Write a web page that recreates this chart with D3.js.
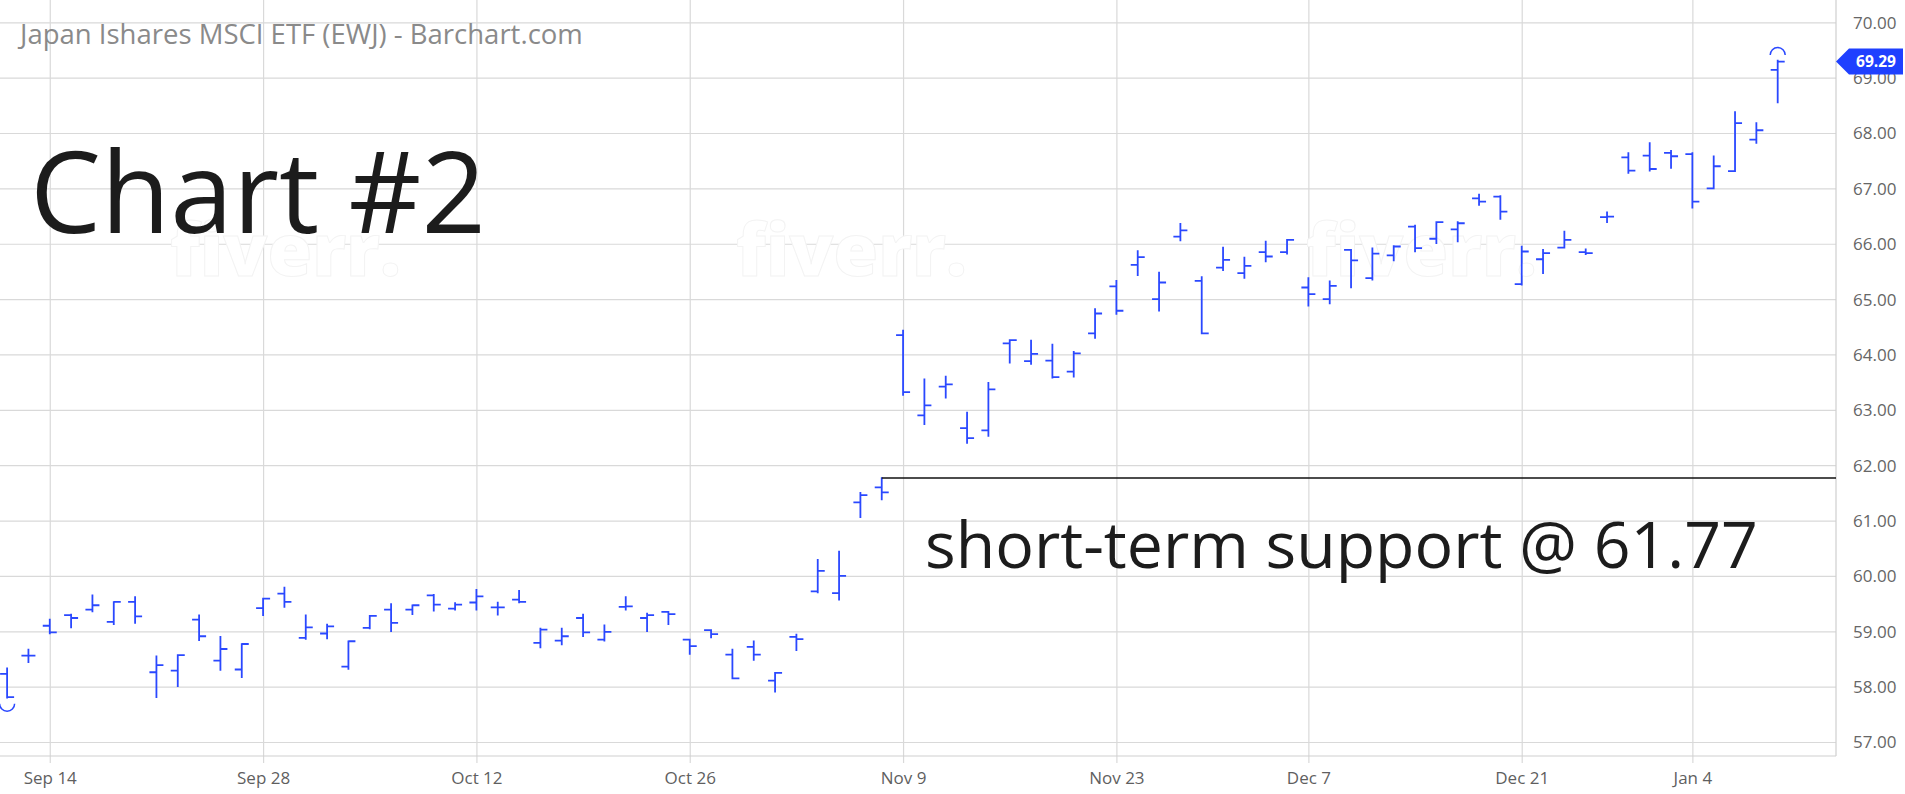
<!DOCTYPE html>
<html>
<head>
<meta charset="utf-8">
<script src="https://cdn.jsdelivr.net/npm/d3@7"></script>
<style>
  html, body { margin: 0; padding: 0; background: #ffffff; }
  svg { display: block; }
</style>
</head>
<body>
<svg id="chart" width="1905" height="794"></svg>
<script>
// ---------------- DATA ----------------
const dates = [
  "2020-09-10","2020-09-11","2020-09-14","2020-09-15","2020-09-16","2020-09-17","2020-09-18",
  "2020-09-21","2020-09-22","2020-09-23","2020-09-24","2020-09-25",
  "2020-09-28","2020-09-29","2020-09-30","2020-10-01","2020-10-02",
  "2020-10-05","2020-10-06","2020-10-07","2020-10-08","2020-10-09",
  "2020-10-12","2020-10-13","2020-10-14","2020-10-15","2020-10-16",
  "2020-10-19","2020-10-20","2020-10-21","2020-10-22","2020-10-23",
  "2020-10-26","2020-10-27","2020-10-28","2020-10-29","2020-10-30",
  "2020-11-02","2020-11-03","2020-11-04","2020-11-05","2020-11-06",
  "2020-11-09","2020-11-10","2020-11-11","2020-11-12","2020-11-13",
  "2020-11-16","2020-11-17","2020-11-18","2020-11-19","2020-11-20",
  "2020-11-23","2020-11-24","2020-11-25","2020-11-27",
  "2020-11-30","2020-12-01","2020-12-02","2020-12-03","2020-12-04",
  "2020-12-07","2020-12-08","2020-12-09","2020-12-10","2020-12-11",
  "2020-12-14","2020-12-15","2020-12-16","2020-12-17","2020-12-18",
  "2020-12-21","2020-12-22","2020-12-23","2020-12-24",
  "2020-12-28","2020-12-29","2020-12-30","2020-12-31",
  "2021-01-04","2021-01-05","2021-01-06","2021-01-07","2021-01-08"
];
const openVals = [
  58.23,58.56,59.10,59.29,59.39,59.17,59.53,
  58.26,58.29,59.21,58.47,58.31,
  59.42,59.68,58.88,58.96,58.36,
  59.06,59.39,59.39,59.65,59.41,
  59.52,59.43,59.57,58.79,58.83,
  59.24,58.85,59.44,59.24,59.35,
  58.85,59.02,58.58,58.72,58.11,
  58.90,59.72,59.69,61.33,61.60,
  64.35,62.90,63.42,62.67,62.63,
  64.20,63.88,63.89,63.69,64.38,
  65.23,65.62,65.00,66.13,
  65.33,65.57,65.47,65.85,65.85,
  65.21,65.00,65.89,65.38,65.79,
  66.31,66.09,66.26,66.82,66.85,
  65.27,65.72,65.93,65.85,
  66.48,67.56,67.59,67.64,
  67.62,67.00,67.31,67.88,69.14
];
const highVals = [
  58.33,58.67,59.21,59.30,59.65,59.53,59.62,
  58.55,58.57,59.29,58.90,58.77,
  59.59,59.79,59.29,59.12,58.82,
  59.28,59.49,59.47,59.66,59.51,
  59.75,59.52,59.73,59.05,59.05,
  59.30,59.11,59.62,59.32,59.35,
  58.85,59.02,58.67,58.82,58.25,
  58.94,60.29,60.44,61.50,61.77,
  64.43,63.55,63.60,62.95,63.49,
  64.26,64.25,64.18,64.05,64.82,
  65.33,65.87,65.48,66.36,
  65.40,65.93,65.75,66.04,66.07,
  65.38,65.32,65.89,65.92,65.96,
  66.33,66.39,66.39,66.89,66.86,
  65.95,65.89,66.22,65.90,
  66.57,67.64,67.82,67.68,
  67.64,67.58,68.38,68.18,69.31
];
const lowVals = [
  57.80,58.44,58.96,59.07,59.36,59.13,59.15,
  57.81,58.01,58.84,58.30,58.17,
  59.29,59.44,58.86,58.87,58.32,
  59.05,59.00,59.31,59.37,59.39,
  59.39,59.30,59.52,58.71,58.76,
  58.91,58.83,59.39,59.00,59.13,
  58.59,58.89,58.15,58.48,57.91,
  58.66,59.70,59.57,61.06,61.38,
  63.27,62.74,63.22,62.40,62.53,
  63.85,63.83,63.58,63.60,64.30,
  64.73,65.43,64.79,66.06,
  64.38,65.52,65.38,65.68,65.82,
  64.88,64.92,65.21,65.35,65.70,
  65.86,66.01,66.04,66.70,66.45,
  65.26,65.47,65.93,65.81,
  66.39,67.28,67.32,67.37,
  66.65,67.00,67.31,67.82,68.55
];
const closeVals = [
  57.81,58.56,58.98,59.24,59.47,59.53,59.27,
  58.39,58.57,58.91,58.68,58.77,
  59.59,59.53,59.07,59.09,58.82,
  59.28,59.15,59.47,59.48,59.48,
  59.63,59.43,59.53,59.03,58.91,
  58.98,58.99,59.45,59.29,59.31,
  58.73,58.95,58.15,58.58,58.25,
  58.86,60.09,60.00,61.46,61.51,
  63.32,63.08,63.46,62.49,63.37,
  64.26,64.01,63.59,64.02,64.74,
  64.79,65.76,65.30,66.24,
  64.38,65.71,65.60,65.77,66.07,
  65.09,65.24,65.70,65.82,65.95,
  65.92,66.39,66.37,66.76,66.58,
  65.86,65.83,66.07,65.83,
  66.49,67.32,67.35,67.58,
  66.76,67.40,68.18,68.05,69.29
];
const tickDates  = ["2020-09-14","2020-09-28","2020-10-12","2020-10-26","2020-11-09","2020-11-23","2020-12-07","2020-12-21","2021-01-04"];
const tickLabels = ["Sep 14","Sep 28","Oct 12","Oct 26","Nov 9","Nov 23","Dec 7","Dec 21","Jan 4"];
const priceTicks = [57,58,59,60,61,62,63,64,65,66,67,68,69,70];
const supportLevel = 61.77;
const supportStartDate = "2020-11-06";
const titleText = "Japan Ishares MSCI ETF (EWJ) - Barchart.com";
const chartLabel = "Chart #2";
const supportLabel = "short-term support @ 61.77";
const watermarkText = "fiverr.";
const watermarkX = [170, 736, 1306];

// ---------------- LAYOUT ----------------
const W = 1905, H = 794;
const plotRight = 1836, plotBottom = 756;
const FONT = "'Open Sans', 'Noto Sans', sans-serif";
const BLUE = "#2a48ff";

const svg = d3.select("#chart");
svg.append("rect").attr("width", W).attr("height", H).attr("fill", "#fff");

const x = d3.scalePoint().domain(dates).range([7.1, 1777.7]);
const y = d3.scaleLinear().domain([57, 70]).range([742, 22.3]);

// helper to fit text to a width
function fitText(sel, targetWidth) {
  const fs = +sel.attr("font-size");
  const w = sel.node().getComputedTextLength();
  if (w > 0) sel.attr("font-size", fs * targetWidth / w);
  return sel;
}

// vertical gridlines + x labels
const gx = svg.append("g").call(
  d3.axisBottom(x).tickValues(tickDates).tickSize(763).tickFormat((d, i) => tickLabels[i])
);
gx.select(".domain").remove();
gx.selectAll(".tick line").attr("stroke", "#d9d9d9").attr("stroke-width", 1.2);
gx.selectAll(".tick text")
  .attr("y", 778).attr("dy", "0.35em")
  .attr("font-family", FONT).attr("font-size", 17).attr("fill", "#5f5f5f");

// horizontal gridlines + y labels
const gy = svg.append("g").attr("transform", `translate(${plotRight},0)`).call(
  d3.axisRight(y).tickValues(priceTicks).tickSize(-plotRight).tickFormat(d3.format(".2f"))
);
gy.select(".domain").remove();
gy.selectAll(".tick line").attr("stroke", "#d9d9d9").attr("stroke-width", 1.2);
gy.selectAll(".tick text")
  .attr("x", 17).attr("dy", "0.35em").attr("text-anchor", "start")
  .attr("font-family", FONT).attr("font-size", 17).attr("fill", "#666");

// frame lines
svg.append("line").attr("x1", plotRight).attr("x2", plotRight).attr("y1", 0).attr("y2", plotBottom)
  .attr("stroke", "#cfcfcf").attr("stroke-width", 1.2);
svg.append("line").attr("x1", 0).attr("x2", plotRight).attr("y1", plotBottom).attr("y2", plotBottom)
  .attr("stroke", "#cfcfcf").attr("stroke-width", 1.2);

// watermark (very faint)
svg.append("g").selectAll("text").data(watermarkX).join("text")
  .attr("x", d => d).attr("y", 276)
  .attr("font-family", FONT).attr("font-weight", 800).attr("font-size", 60)
  .attr("fill", "#ffffff").attr("stroke", "#f3f3f3").attr("stroke-width", 1)
  .text(watermarkText)
  .each(function () { fitText(d3.select(this), 231); });

// OHLC bars
const bars = dates.map((d, i) => ({ d, o: openVals[i], h: highVals[i], l: lowVals[i], c: closeVals[i] }));
const TICK = 7;
svg.append("g").selectAll("path").data(bars).join("path")
  .attr("d", b => {
    const cx = x(b.d);
    return `M${cx},${y(b.h) - 0.8}V${y(b.l) + 0.8}` +
           `M${cx - TICK},${y(b.o)}H${cx}` +
           `M${cx},${y(b.c)}H${cx + TICK}`;
  })
  .attr("fill", "none").attr("stroke", BLUE).attr("stroke-width", 1.8);

// extreme markers (low of first bar, high of last bar)
const first = bars[0], last = bars[bars.length - 1];
const R = 7.5;
{
  const cx = x(first.d), cy = y(first.l) + 6;
  svg.append("path").attr("d", `M${cx - R},${cy}A${R},${R} 0 0 0 ${cx + R},${cy}`)
    .attr("fill", "none").attr("stroke", BLUE).attr("stroke-width", 1.5);
}
{
  const cx = x(last.d), cy = y(last.h) - 5.5;
  svg.append("path").attr("d", `M${cx - R},${cy}A${R},${R} 0 0 1 ${cx + R},${cy}`)
    .attr("fill", "none").attr("stroke", BLUE).attr("stroke-width", 1.5);
}

// support line
svg.append("line")
  .attr("x1", x(supportStartDate)).attr("x2", plotRight)
  .attr("y1", y(supportLevel)).attr("y2", y(supportLevel))
  .attr("stroke", "#111").attr("stroke-width", 1.4);

// title
fitText(svg.append("text").attr("x", 20).attr("y", 44)
  .attr("font-family", FONT).attr("font-size", 26).attr("fill", "#8a8a8a")
  .text(titleText), 563);

// Chart #2
fitText(svg.append("text").attr("x", 30).attr("y", 233)
  .attr("font-family", FONT).attr("font-size", 126).attr("fill", "#1c1c1c")
  .text(chartLabel), 456);

// support label
fitText(svg.append("text").attr("x", 925).attr("y", 568)
  .attr("font-family", FONT).attr("font-size", 66).attr("fill", "#1c1c1c")
  .text(supportLabel), 833);

// last price box
{
  const cy = y(last.c);
  const g = svg.append("g");
  g.append("path")
    .attr("d", `M${plotRight},${cy}L${plotRight + 13},${cy - 13}H${1903}V${cy + 13}H${plotRight + 13}Z`)
    .attr("fill", "#1f40ff");
  g.append("text").attr("x", 1876).attr("y", cy).attr("dy", "0.36em")
    .attr("text-anchor", "middle").attr("font-family", FONT).attr("font-weight", 700)
    .attr("font-size", 15.5).attr("fill", "#fff")
    .text(d3.format(".2f")(last.c));
}
</script>
</body>
</html>
